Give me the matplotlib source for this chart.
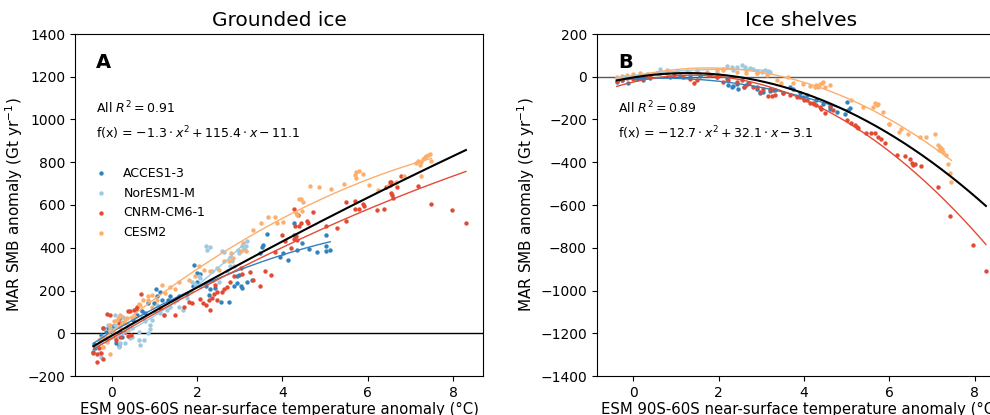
import numpy as np
import matplotlib
matplotlib.use('Agg')
import matplotlib.pyplot as plt

# noms des modeles et couleurs
models = ['ACCES1-3', 'NorESM1-M', 'CNRM-CM6-1', 'CESM2']
colors = ['#3182bd', '#9ecae1', '#e34a33', '#fdae6b']

# --- Grounded ice (panneau A) ---
gi_acces_x = [5.02, 5.12, 5.02, 5.02, 4.81, 4.62, 4.47, 4.35, 4.27, 4.26, 4.02, 4.12, 3.95, 3.55, 3.53,
              3.65, 3.47, 3.28, 3.18, 3.06, 3.02, 2.94, 2.94, 2.98, 2.86, 2.75, 2.55, 2.43, 2.30, 2.27,
              2.20, 2.00, 2.00, 2.08, 1.92, 1.91, 1.76, 1.57, 1.37, 1.33, 1.18, 1.14, 1.06, 1.04, 0.84,
              0.78, 0.71, 0.59, 0.51, 0.27, 0.20, 0.16, 0.04, -0.02, -0.08, -0.13, -0.16, -0.24, -0.20,
              -0.12, -0.42, -0.43, -0.39, 0.10, 0.16, 0.24, 0.98]
gi_acces_y = [461, 388, 383, 406, 378, 394, 422, 391, 461, 516, 375, 344, 359, 414, 403,
              464, 375, 250, 242, 211, 222, 234, 266, 273, 219, 148, 148, 211, 206, 180,
              219, 242, 281, 278, 320, 222, 184, 172, 172, 156, 156, 195, 172, 206, 141,
              94, 102, 86, 63, 47, 8, 0, 34, 16, 23, 8, -16, -8, 23,
              -31, -50, -90, -70, -47, -59, -16, 141]

gi_nor_x = [2.20, 2.24, 2.30, 2.59, 2.63, 2.78, 2.82, 2.78, 2.86, 2.71, 2.35, 2.47, 2.51, 2.38, 2.04,
            2.06, 2.08, 1.96, 1.88, 1.86, 1.76, 1.67, 1.57, 1.53, 1.45, 1.37, 1.29, 1.22, 1.12, 1.06,
            1.02, 0.94, 0.89, 0.78, 0.71, 0.65, 0.67, 0.75, 0.89, 0.84, 0.63, 0.47, 0.39, 0.35, 0.27,
            0.20, 0.08, 0.08, -0.04, -0.09, -0.18, -0.21, -0.24, -0.27, -0.35, 0.16, 0.20, 0.31, 0.43,
            0.47, 3.14, 3.06, 2.98, 3.18, 3.10, 2.95]
gi_nor_y = [406, 391, 403, 383, 378, 359, 336, 316, 316, 289, 289, 305, 238, 250, 266,
            258, 222, 231, 238, 200, 164, 109, 125, 156, 148, 125, 109, 86, 94, 133,
            102, 63, 39, 55, 78, -31, -55, -31, 19, 0, 8, 23, 44, 23, 78,
            63, 86, 39, 23, 39, -12, -63, -109, -94, -59, -63, -47, -47, -23,
            -19, 409, 406, 375, 430, 395, 390]

gi_cnrm_x = [4.27, 4.37, 4.57, 4.72, 4.43, 4.30, 4.39, 4.59, 5.49, 5.70, 5.69, 5.79, 5.88, 5.91, 6.22,
             6.38, 6.43, 6.51, 6.55, 6.51, 6.69, 6.77, 7.18, 7.47, 7.98, 8.30, 5.02, 5.28, 5.50, 6.57,
             6.55, 6.59, 4.00, 4.05, 4.27, 4.31, 4.35, 4.20, 3.83, 3.59, 3.73, 3.48, 3.32, 3.24, 3.06,
             3.02, 2.86, 2.78, 2.71, 2.63, 2.59, 2.47, 2.39, 2.35, 2.27, 2.43, 2.47, 2.30, 2.20, 2.14,
             2.08, 1.88, 1.80, 1.70, 1.49, 1.22, 1.14, 0.68, 0.60, 0.57, 0.53, 0.43, 0.39, -0.12, -0.04,
             0.18, 0.18, 0.31, 0.38, 0.45, -0.21, -0.20, -0.29, -0.35, -0.24, -0.20, -0.34, -0.43, 0.08,
             0.20, 0.10]
gi_cnrm_y = [583, 552, 526, 565, 516, 501, 501, 516, 615, 619, 580, 580, 607, 596, 576,
             580, 685, 708, 708, 693, 685, 736, 690, 607, 576, 516, 502, 493, 526, 646,
             654, 633, 461, 430, 441, 453, 438, 398, 378, 289, 273, 222, 250, 286, 278,
             305, 266, 238, 216, 206, 195, 195, 184, 164, 156, 227, 156, 109, 133, 141,
             159, 141, 144, 122, 86, 86, 117, 184, 125, 113, 109, 102, 102, 91, 86,
             70, 50, 8, -12, -8, 23, -23, -70, -97, -94, -122, -133, -94, -16,
             -16, -31]

gi_cesm_x = [7.25, 7.29, 7.33, 7.41, 7.45, 7.37, 7.18, 7.22, 7.14, 7.49, 7.25, 5.69, 5.73, 5.79, 5.88,
             5.73, 6.02, 4.65, 4.85, 5.15, 5.44, 6.24, 6.47, 6.67, 6.86, 4.39, 4.43, 4.49, 4.31, 4.34,
             4.47, 3.66, 3.82, 3.49, 3.87, 4.02, 3.32, 3.08, 3.14, 3.02, 2.80, 2.85, 2.75, 2.63, 2.51,
             2.30, 2.16, 2.04, 1.96, 1.80, 1.57, 1.49, 1.37, 1.18, 1.25, 1.06, 0.94, 0.84, 0.84, 0.73,
             0.67, 0.65, 0.94, 0.55, 0.47, 0.35, 0.31, 0.20, 0.16, 0.12, 0.05, -0.04, -0.04, -0.05, -0.12,
             -0.04, -0.20, -0.24, -0.29, 0.20, 0.39, 0.04, 0.24, 0.31]
gi_cesm_y = [802, 817, 825, 833, 838, 828, 807, 786, 797, 807, 736, 739, 755, 758, 747,
             724, 693, 690, 685, 674, 696, 669, 690, 708, 736, 630, 626, 615, 563, 552,
             573, 544, 544, 516, 516, 521, 485, 422, 383, 383, 375, 352, 336, 336, 297,
             289, 297, 313, 266, 250, 242, 206, 216, 227, 188, 156, 180, 172, 156, 156,
             133, 138, 125, 78, 70, 70, 66, 86, 78, 63, 55, 39, 16, -16, -39,
             -97, -63, -23, -31, 31, 16, 8, 47, 47]

# --- Ice shelves (panneau B) ---
is_acces_x = [-0.39, -0.27, -0.12, 0.08, 0.23, 0.39, 0.62, 0.86, 1.09, 1.33, 1.56, 1.80, 1.95, 2.19, 2.34,
              2.42, 2.58, 2.69, 2.89, 2.97, 3.04, 3.20, 3.32, 3.51, 3.67, 3.75, 3.90, 3.98, 4.06, 4.29,
              4.45, 4.61, 4.76, 5.00, 5.04, 5.07, 4.96, 4.61, 2.30, 2.46, 2.22]
is_acces_y = [-23, -16, -28, -12, -16, -8, 16, 0, 3, 0, 3, 8, 0, -12, -44,
              -34, -47, -31, -59, -78, -70, -66, -62, -78, -50, -59, -78, -94, -86, -109,
              -128, -140, -164, -117, -156, -148, -175, -153, -47, -55, -39]

is_nor_x = [2.19, 2.30, 2.42, 2.54, 2.62, 2.73, 2.81, 2.89, 3.01, 3.08, 3.16, 3.20, 2.89, 2.65, 2.34,
            2.11, 1.95, 1.72, 1.33, 0.94, 0.55, 0.31, 0.00, -0.23, -0.39, 0.78, 1.01, 1.48, 0.62]
is_nor_y = [50, 44, 47, 55, 44, 39, 34, 28, 23, 31, 28, 23, 19, 31, 31,
            34, 23, 19, 16, 16, 16, 12, 8, 0, -8, 31, 23, 28, 34]

is_cnrm_x = [4.68, 4.61, 4.37, 4.29, 4.22, 4.14, 4.06, 3.90, 3.67, 3.51, 3.32, 3.20, 3.04, 2.89, 2.65,
             2.42, 2.22, 2.11, 1.95, 1.76, 1.48, 1.41, 1.33, 1.17, 0.94, 0.78, 0.55, 0.39, 0.31, 0.16,
             0.00, -0.16, -0.27, -0.39, 3.28, 2.97, 2.58, 2.55, 2.70, 2.80, 3.15, 3.25, 3.83, 4.00,
             4.20, 4.40, 4.50, 5.00, 5.10, 5.20, 5.27, 5.25, 5.45, 5.56, 5.66, 5.72, 5.80, 5.89, 6.18,
             6.36, 6.48, 6.52, 6.60, 6.73, 6.56, 7.14, 7.43, 7.95, 8.26]
is_cnrm_y = [-156, -137, -140, -133, -128, -122, -109, -94, -86, -78, -86, -59, -55, -47, -39,
             -23, -16, -23, 0, 8, -16, -28, -12, 0, 8, 16, 19, 8, 0, -8,
             -12, -8, -16, -19, -62, -70, -47, -16, -30, -47, -90, -90, -94, -110,
             -125, -150, -170, -203, -215, -228, -240, -234, -262, -262, -265, -280, -290, -309, -366,
             -371, -387, -404, -410, -418, -412, -515, -650, -788, -908]

is_cesm_x = [7.45, 7.42, 7.38, 7.32, 7.26, 7.22, 7.18, 7.14, 7.07, 7.17, 6.85, 6.71, 6.44, 6.28, 5.99,
             5.85, 5.70, 5.66, 5.74, 5.62, 5.39, 5.11, 4.61, 4.49, 4.41, 4.45, 4.37, 4.29, 4.33, 4.25,
             4.14, 3.98, 3.75, 3.63, 3.47, 3.36, -0.39, -0.27, -0.16, 0.00, 0.16, 0.35, 0.55, 0.78, 1.01,
             1.25, 1.48, 1.72, 1.95, 2.11, 2.42, 2.65, 2.89, 3.12, 6.00, 6.22]
is_cesm_y = [-491, -452, -406, -367, -351, -340, -328, -320, -268, -343, -284, -281, -268, -245, -222,
             -167, -133, -122, -128, -140, -140, -109, -39, -50, -27, -23, -34, -39, -47, -50,
             -44, -34, -31, 0, -31, -16, 0, 3, 8, 12, 16, 12, 19, 23, 23,
             27, 23, 23, 31, 31, 23, 19, 16, 8, -223, -257]

# coefficients de la regression globale
gi_coef = [-1.3, 115.4, -11.1]
is_coef = [-12.7, 32.1, -3.1]

panels = [
    dict(title='Grounded ice', letter='A', r2='0.91',
         eq=r'f(x) = $-1.3 \cdot x^2 + 115.4 \cdot x - 11.1$',
         xs=[gi_acces_x, gi_nor_x, gi_cnrm_x, gi_cesm_x],
         ys=[gi_acces_y, gi_nor_y, gi_cnrm_y, gi_cesm_y],
         coef=gi_coef, ylim=(-200, 1400), hcol='k'),
    dict(title='Ice shelves', letter='B', r2='0.89',
         eq=r'f(x) = $-12.7 \cdot x^2 + 32.1 \cdot x - 3.1$',
         xs=[is_acces_x, is_nor_x, is_cnrm_x, is_cesm_x],
         ys=[is_acces_y, is_nor_y, is_cnrm_y, is_cesm_y],
         coef=is_coef, ylim=(-1400, 200), hcol='0.35'),
]

fig = plt.figure(figsize=(9.9, 4.15), dpi=100)
lefts = [75 / 990, 596.7 / 990]

for i, p in enumerate(panels):
    ax = fig.add_axes([lefts[i], 39 / 415, 408 / 990, 342 / 415])
    ax.axhline(0, color=p['hcol'], lw=1, zorder=1)
    allx = []
    for name, col, x, y in zip(models, colors, p['xs'], p['ys']):
        x = np.array(x)
        y = np.array(y)
        ax.scatter(x, y, s=10, color=col, linewidths=0, label=name, zorder=2)
        c = np.polyfit(x, y, 2)
        xx = np.linspace(x.min(), x.max(), 100)
        ax.plot(xx, np.polyval(c, xx), color=col, lw=1, zorder=3)
        allx.extend(x)
    xx = np.linspace(min(allx), max(allx), 200)
    ax.plot(xx, np.polyval(p['coef'], xx), color='k', lw=1.5, zorder=4)

    ax.set_xlim(-0.86, 8.7)
    ax.set_ylim(p['ylim'])
    ax.set_xticks([0, 2, 4, 6, 8])
    ax.set_yticks(np.arange(p['ylim'][0], p['ylim'][1] + 1, 200))
    ax.set_title(p['title'], fontsize=14.5)
    ax.set_xlabel('ESM 90S-60S near-surface temperature anomaly (°C)', fontsize=10.7, labelpad=1.5)
    ax.set_ylabel(r'MAR SMB anomaly (Gt yr$^{-1}$)', fontsize=11, labelpad=2)
    ax.text(0.052, 0.918, p['letter'], transform=ax.transAxes, fontsize=14,
            fontweight='bold', va='center')
    ax.text(0.052, 0.784, 'All $R^2 = $' + p['r2'], transform=ax.transAxes,
            fontsize=9, va='center')
    ax.text(0.052, 0.711, p['eq'], transform=ax.transAxes, fontsize=9, va='center')
    if i == 0:
        ax.legend(loc='upper left', bbox_to_anchor=(0.005, 0.645), frameon=False,
                  fontsize=9, handletextpad=0.8, labelspacing=0.55)

fig.savefig('out.png', dpi=100)
